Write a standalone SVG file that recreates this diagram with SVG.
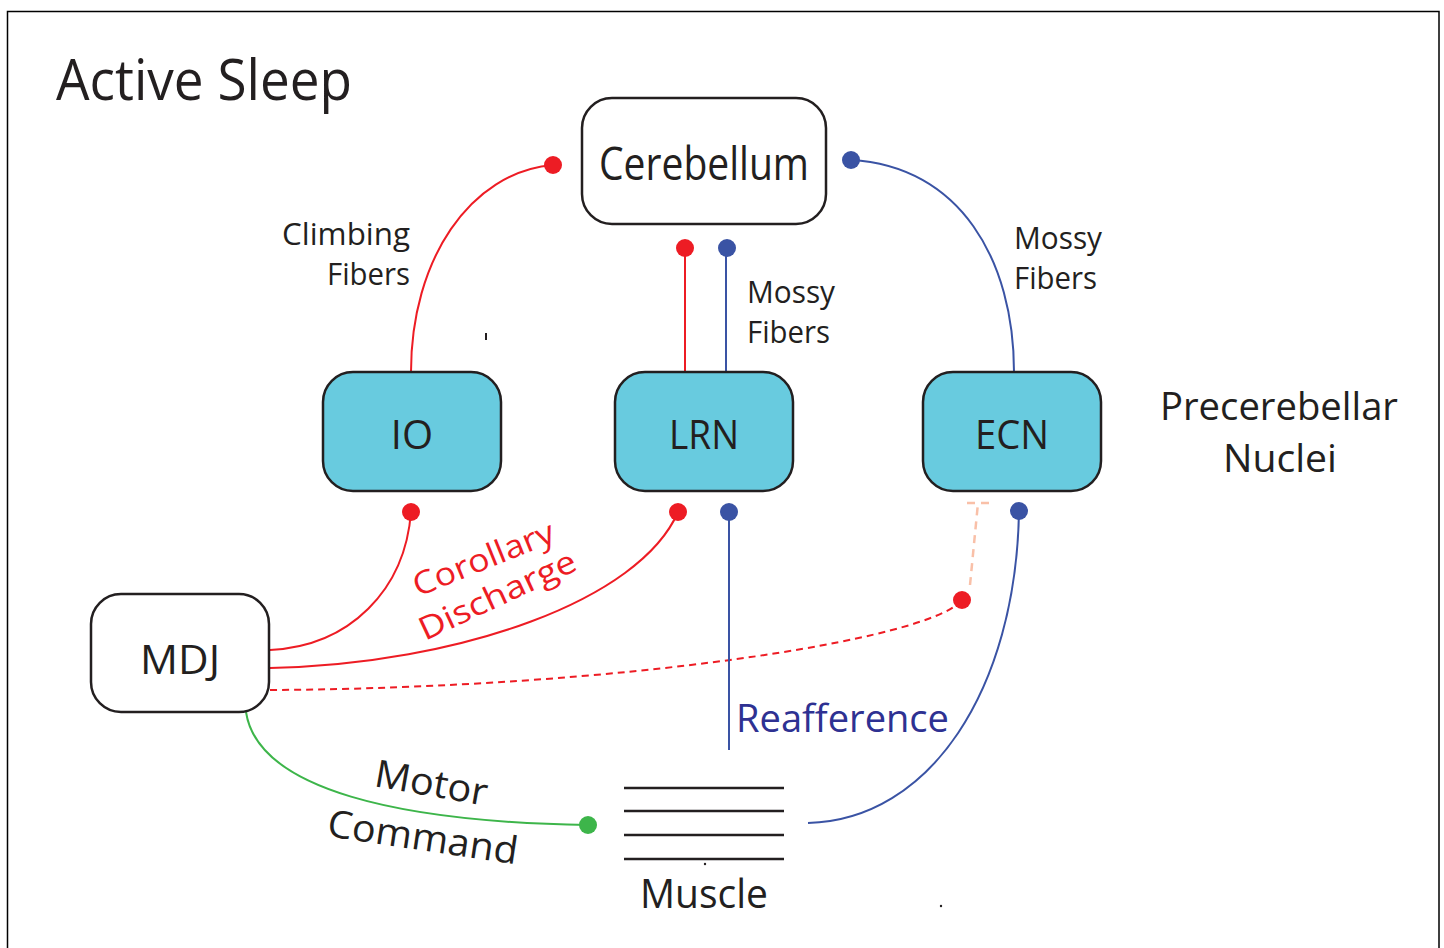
<svg xmlns="http://www.w3.org/2000/svg" width="1444" height="948" viewBox="0 0 1444 948">
  <defs>
    <style>
      text { font-family: "Open Sans", "Noto Sans", "DejaVu Sans", sans-serif; fill: #231f20; }
      .box { stroke: #231f20; stroke-width: 2.5; }
      .white { fill: #ffffff; }
      .nuc { fill: #68cbdf; }
      .red { fill: none; stroke: #ed1c24; stroke-width: 2; }
      .blue { fill: none; stroke: #3a53a4; stroke-width: 2; }
      .green { fill: none; stroke: #3db54a; stroke-width: 2; }
      .dotR { fill: #ed1c24; }
      .dotB { fill: #3a53a4; }
      .dotG { fill: #3db54a; }
      .muscle { stroke: #231f20; stroke-width: 2.5; }
    </style>
  </defs>

  <rect width="1444" height="948" fill="#ffffff"/>
  <!-- frame -->
  <path d="M7.5,948 V11.5 H1439 V948" fill="none" stroke="#000" stroke-width="1.5"/>

  <text x="56" y="100" font-size="56" textLength="296" lengthAdjust="spacingAndGlyphs">Active Sleep</text>

  <!-- connectors -->
  <g id="connectors">
    <!-- climbing fibers IO -> cerebellum -->
    <path class="red" d="M411,372 C411,260 470,172 553,165"/>
    <!-- LRN mossy fibers -->
    <path class="red" d="M685,372 V248"/>
    <path class="blue" d="M726,372 V248"/>
    <!-- ECN mossy fibers -->
    <path class="blue" d="M1014,372 C1014,260 960,166 851,160"/>
    <!-- corollary discharge -->
    <path class="red" d="M270,650 C350,646 405,590 411,512"/>
    <path class="red" d="M270,668 C460,664 640,600 678,512"/>
    <path class="red" d="M270,690 C620,688 930,640 962,600" stroke-dasharray="7,5"/>
    <path d="M970,585 L978,503 M967,503 H989" fill="none" stroke="#f9c0a8" stroke-width="2.5" stroke-dasharray="8,6"/>
    <!-- reafference -->
    <path class="blue" d="M729,512 V750"/>
    <path class="blue" d="M1019,511 C1016,690 930,820 808,823"/>
    <!-- motor command -->
    <path class="green" d="M246,712 C258,790 400,822 588,825"/>

    <circle class="dotR" cx="553" cy="165" r="9"/>
    <circle class="dotR" cx="685" cy="248" r="9"/>
    <circle class="dotB" cx="727" cy="248" r="9"/>
    <circle class="dotB" cx="851" cy="160" r="9"/>
    <circle class="dotR" cx="411" cy="512" r="9"/>
    <circle class="dotR" cx="678" cy="512" r="9"/>
    <circle class="dotB" cx="729" cy="512" r="9"/>
    <circle class="dotB" cx="1019" cy="511" r="9"/>
    <circle class="dotR" cx="962" cy="600" r="9"/>
    <circle class="dotG" cx="588" cy="825" r="9"/>
  </g>

  <!-- nodes -->
  <g id="cerebellum">
    <rect class="box white" x="582" y="98" width="244" height="126" rx="30"/>
    <text x="704" y="180" font-size="46" text-anchor="middle" textLength="210" lengthAdjust="spacingAndGlyphs">Cerebellum</text>
  </g>
  <g id="io">
    <rect class="box nuc" x="323" y="372" width="178" height="119" rx="30"/>
    <text x="412" y="449" font-size="40" text-anchor="middle">IO</text>
  </g>
  <g id="lrn">
    <rect class="box nuc" x="615" y="372" width="178" height="119" rx="30"/>
    <text x="704" y="449" font-size="40" text-anchor="middle" textLength="70" lengthAdjust="spacingAndGlyphs">LRN</text>
  </g>
  <g id="ecn">
    <rect class="box nuc" x="923" y="372" width="178" height="119" rx="30"/>
    <text x="1012" y="449" font-size="40" text-anchor="middle" textLength="74" lengthAdjust="spacingAndGlyphs">ECN</text>
  </g>
  <g id="mdj">
    <rect class="box white" x="91" y="594" width="178" height="118" rx="30"/>
    <text x="180" y="674" font-size="40" text-anchor="middle" textLength="80" lengthAdjust="spacingAndGlyphs">MDJ</text>
  </g>
  <g id="muscle">
    <path class="muscle" d="M624,788 H784 M624,811 H784 M624,835 H784 M624,859 H784"/>
    <text x="704" y="908" font-size="40" text-anchor="middle" textLength="128" lengthAdjust="spacingAndGlyphs">Muscle</text>
  </g>

  <!-- labels -->
  <g id="labels">
    <text x="410" y="245" font-size="31" text-anchor="end" textLength="128" lengthAdjust="spacingAndGlyphs">Climbing</text>
    <text x="410" y="285" font-size="31" text-anchor="end" textLength="83" lengthAdjust="spacingAndGlyphs">Fibers</text>
    <text x="747" y="303" font-size="31" textLength="88" lengthAdjust="spacingAndGlyphs">Mossy</text>
    <text x="747" y="343" font-size="31" textLength="83" lengthAdjust="spacingAndGlyphs">Fibers</text>
    <text x="1014" y="249" font-size="31" textLength="88" lengthAdjust="spacingAndGlyphs">Mossy</text>
    <text x="1014" y="289" font-size="31" textLength="83" lengthAdjust="spacingAndGlyphs">Fibers</text>
    <text x="1160" y="420" font-size="39" textLength="238" lengthAdjust="spacingAndGlyphs">Precerebellar</text>
    <text x="1280" y="472" font-size="39" text-anchor="middle" textLength="114" lengthAdjust="spacingAndGlyphs">Nuclei</text>
    <text x="736" y="732" font-size="38" style="fill:#2e3192" textLength="213" lengthAdjust="spacingAndGlyphs">Reafference</text>
    <text transform="translate(418,597) rotate(-22)" font-size="32" style="fill:#ed1c24" textLength="150" lengthAdjust="spacingAndGlyphs">Corollary</text>
    <text transform="translate(425,641) rotate(-25)" font-size="32" style="fill:#ed1c24" textLength="170" lengthAdjust="spacingAndGlyphs">Discharge</text>
    <text transform="translate(373,786) rotate(10)" font-size="38" textLength="114" lengthAdjust="spacingAndGlyphs">Motor</text>
    <text transform="translate(326,836) rotate(8.5)" font-size="38" textLength="192" lengthAdjust="spacingAndGlyphs">Command</text>
  </g>

  <!-- stray marks -->
  <rect x="485" y="333" width="2" height="7" fill="#231f20"/>
  <circle cx="705" cy="864" r="1.2" fill="#231f20"/>
  <circle cx="941" cy="906" r="1.2" fill="#231f20"/>
</svg>
